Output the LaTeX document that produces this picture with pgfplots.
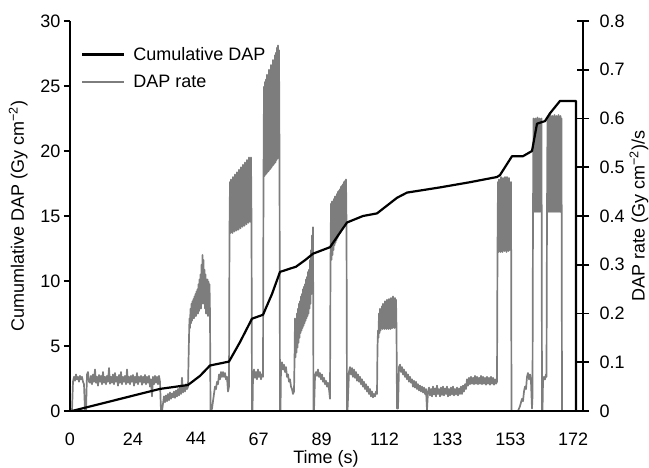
\documentclass[border=0pt]{standalone}
\usepackage{pgfplots}
\pgfplotsset{compat=1.18}
\usepackage{fontspec}
\setmainfont{Liberation Sans}
\definecolor{rategray}{RGB}{125,125,125}
\newcommand{\fs}{\fontsize{18}{21}\selectfont}
\pgfplotsset{base/.style={width=513pt,height=390pt,scale only axis,
  xmin=70,xmax=583,
  /pgf/number format/assume math mode=true,
  tick label style={font=\fs}, label style={font=\fs},
  axis line style={line width=1.8pt},
  every tick/.style={black,line width=1.6pt}}}
\begin{document}
\begin{tikzpicture}
% DAP rate (right axis), drawn first
\begin{axis}[base, axis x line=none, axis y line*=right,
  ymin=0, ymax=0.8, ytick={0,0.1,0.2,0.3,0.4,0.5,0.6,0.7,0.8},
  tick align=center, major tick length=12pt,
  yticklabel style={xshift=7pt},
  ylabel={DAP rate (Gy cm\textsuperscript{−2})/s},
  ylabel style={at={(axis description cs:1.109,0.5)},anchor=center}]
\addplot[rategray, line width=1.7pt, line join=round] coordinates {
(72,0) (73,0.06) (74,0.07) (75,0.062) (76,0.075) (77,0.065) (78,0.07) (79,0.06) (80,0.072) (81,0.065) (82,0.07) (83,0.06) (84,0.055) (85,0) (86,0) (87,0.075) (88,0.08) (89,0.06)
(90,0.058) (91,0.072) (92,0.055) (93,0.075) (94,0.06) (95,0.085) (96,0.058) (97,0.07) (98,0.052) (99,0.074) (100,0.06) (101,0.072) (102,0.055) (103,0.08) (104,0.058) (105,0.07) (106,0.055) (107,0.072) (108,0.06) (109,0.088)
(110,0.056) (111,0.07) (112,0.058) (113,0.075) (114,0.055) (115,0.078) (116,0.06) (117,0.07) (118,0.052) (119,0.074) (120,0.058) (121,0.08) (122,0.055) (123,0.07) (124,0.06) (125,0.072) (126,0.055) (127,0.085) (128,0.058) (129,0.07)
(130,0.055) (131,0.072) (132,0.06) (133,0.074) (134,0.052) (135,0.07) (136,0.058) (137,0.078) (138,0.055) (139,0.07) (140,0.06) (141,0.072) (142,0.054) (143,0.07) (144,0.058) (145,0.074) (146,0.055) (147,0.07) (148,0.058) (149,0.072)
(150,0.05) (151,0.065) (152,0.03) (153,0.07) (154,0.055) (155,0.072) (156,0.058) (157,0.07) (158,0.055) (159,0.072) (160,0.06) (161,0)
(162,0) (163,0.015) (164,0.03) (165,0.018) (166,0.032) (167,0.02) (168,0.035) (169,0.022) (170,0.038) (171,0.025) (172,0.036) (173,0.028) (174,0.04) (175,0.027) (176,0.042) (177,0.03) (178,0.045) (179,0.032) (180,0.05) (181,0.035) (182,0.068) (183,0.038) (184,0.05) (185,0.04) (186,0.055) (187,0.045) (188,0.05)
(189,0.15) (189.5,0.19) (190,0.17) (190.5,0.21) (191,0.18) (191.5,0.22) (192,0.185) (192.5,0.225) (193,0.19) (193.5,0.23) (194,0.19) (194.5,0.235) (195,0.195) (195.5,0.24) (196,0.195) (196.5,0.245) (197,0.2) (197.5,0.25) (198,0.2) (198.5,0.26) (199,0.205) (199.5,0.27) (200,0.21) (200.5,0.28) (201,0.21) (201.5,0.3) (202,0.22) (202.5,0.32) (203,0.25) (203.5,0.31) (204,0.22) (204.5,0.29) (205,0.21) (205.5,0.28) (206,0.2) (206.5,0.27) (207,0.2) (207.5,0.27) (208,0.195) (208.5,0.265) (209,0.2) (209.5,0.26) (210,0.2) (210.5,0)
(211,0) (212,0.005) (213,0.02) (214,0.035) (215,0.05) (216,0.045) (217,0.06) (218,0.055) (219,0.075) (220,0.065) (221,0.08) (222,0.07) (223,0.08) (224,0.07) (225,0.078) (226,0.065) (227,0.07) (228,0.04) (229,0.05)
(229.5,0.37) (230,0.47) (230.5,0.365) (231,0.475) (231.5,0.37) (232,0.46) (232.5,0.365) (233,0.48) (233.5,0.37) (234,0.475) (234.5,0.368) (235,0.485) (235.5,0.372) (236,0.48) (236.5,0.37) (237,0.49) (237.5,0.375) (238,0.485) (238.5,0.372) (239,0.495) (239.5,0.378) (240,0.49) (240.5,0.375) (241,0.5) (241.5,0.38) (242,0.495) (242.5,0.378) (243,0.505) (243.5,0.382) (244,0.5) (244.5,0.38) (245,0.51) (245.5,0.385) (246,0.505) (246.5,0.383) (247,0.515) (247.5,0.388) (248,0.51) (248.5,0.386) (249,0.52) (249.5,0.39) (250,0.515) (250.5,0.388) (251,0.52) (251.5,0.39) (252,0)
(252.5,0) (253,0.07) (254,0.085) (255,0.068) (256,0.08) (257,0.065) (258,0.085) (259,0.07) (260,0.08) (261,0.065) (262,0.075) (263,0.07)
(263.5,0.48) (264,0.665) (264.5,0.482) (265,0.675) (265.5,0.485) (266,0.68) (266.5,0.487) (267,0.69) (267.5,0.49) (268,0.685) (268.5,0.492) (269,0.7) (269.5,0.495) (270,0.695) (270.5,0.497) (271,0.71) (271.5,0.5) (272,0.705) (272.5,0.503) (273,0.72) (273.5,0.505) (274,0.715) (274.5,0.508) (275,0.73) (275.5,0.51) (276,0.735) (276.5,0.515) (277,0.745) (277.5,0.518) (278,0.75) (278.5,0.52) (279,0.74) (279.5,0.525) (280,0)
(280.5,0) (281,0.09) (282,0.1) (283,0.085) (284,0.095) (285,0.08) (286,0.09) (287,0.07) (288,0.075) (289,0.06) (290,0.065) (291,0.05) (292,0.045) (293,0.035) (294,0.04)
(294.5,0.1) (295,0.19) (295.5,0.11) (296,0.18) (296.5,0.12) (297,0.2) (297.5,0.13) (298,0.21) (298.5,0.14) (299,0.22) (299.5,0.15) (300,0.225) (300.5,0.16) (301,0.235) (301.5,0.165) (302,0.24) (302.5,0.17) (303,0.25) (303.5,0.175) (304,0.255) (304.5,0.18) (305,0.26) (305.5,0.185) (306,0.27) (306.5,0.19) (307,0.275) (307.5,0.195) (308,0.285) (308.5,0.2) (309,0.29) (309.5,0.21) (310,0.31) (310.5,0.22) (311,0.33) (311.5,0.24) (312,0.36) (312.5,0.26) (313,0.377) (313.5,0)
(314,0) (315,0.07) (316,0.08) (317,0.072) (318,0.085) (319,0.07) (320,0.078) (321,0.065) (322,0.075) (323,0.06) (324,0.068) (325,0.055) (326,0.062) (327,0.05) (328,0.058) (329,0.045) (330,0.025)
(330.5,0.3) (331,0.425) (331.5,0.31) (332,0.43) (332.5,0.32) (333,0.43) (333.5,0.33) (334,0.435) (334.5,0.34) (335,0.44) (335.5,0.345) (336,0.44) (336.5,0.35) (337,0.445) (337.5,0.355) (338,0.45) (338.5,0.36) (339,0.452) (339.5,0.365) (340,0.455) (340.5,0.37) (341,0.46) (341.5,0.372) (342,0.462) (342.5,0.375) (343,0.465) (343.5,0.378) (344,0.47) (344.5,0.38) (345,0.472) (345.5,0.383) (346,0.475) (346.5,0.385) (347,0)
(347.5,0) (349,0.08) (350,0.09) (351,0.075) (352,0.088) (353,0.07) (354,0.085) (355,0.068) (356,0.08) (357,0.062) (358,0.075) (359,0.06) (360,0.07) (361,0.055) (362,0.065) (363,0.05) (364,0.06) (365,0.045) (366,0.055) (367,0.04) (368,0.05) (369,0.035) (370,0.045) (371,0.03) (372,0.04) (373,0.028) (374,0.035) (375,0.03) (376,0.04) (377,0.035)
(377.5,0.13) (378,0.165) (378.5,0.15) (379,0.2) (379.5,0.16) (380,0.21) (380.5,0.165) (381,0.205) (381.5,0.17) (382,0.215) (382.5,0.168) (383,0.22) (383.5,0.17) (384,0.215) (384.5,0.168) (385,0.225) (385.5,0.17) (386,0.22) (386.5,0.168) (387,0.228) (387.5,0.17) (388,0.222) (388.5,0.168) (389,0.23) (389.5,0.17) (390,0.225) (390.5,0.168) (391,0.232) (391.5,0.17) (392,0.228) (392.5,0.17) (393,0.235) (393.5,0.172) (394,0.23) (394.5,0.17) (395,0.232) (395.5,0.172) (396,0.228) (396.5,0.17) (397,0.005)
(398,0.005) (399,0.09) (400,0.095) (401,0.08) (402,0.09) (403,0.075) (404,0.085) (405,0.07) (406,0.08) (407,0.065) (408,0.075) (409,0.06) (410,0.07) (411,0.058) (412,0.065) (413,0.05) (414,0.062) (415,0.048) (416,0.06) (417,0.045) (418,0.055) (419,0.042) (420,0.052) (421,0.04) (422,0.05) (423,0.038) (424,0.048) (425,0.035) (426,0.045) (427,0.002) (428,0.04)
(429,0.048) (430,0.032) (431,0.045) (432,0.03) (433,0.05) (434,0.034) (435,0.046) (436,0.03) (437,0.052) (438,0.035) (439,0.045) (440,0.03) (441,0.048) (442,0.033) (443,0.05) (444,0.032) (445,0.046) (446,0.035) (447,0.05) (448,0.03) (449,0.045) (450,0.032) (451,0.048) (452,0.034) (453,0.05) (454,0.032) (455,0.045) (456,0.034) (457,0.048) (458,0.032) (459,0.046) (460,0.035) (461,0.05) (462,0.035) (463,0.052) (464,0.04)
(465,0.055) (466,0.045) (467,0.065) (468,0.052) (469,0.068) (470,0.055) (471,0.07) (472,0.056) (473,0.068) (474,0.055) (475,0.072) (476,0.056) (477,0.07) (478,0.055) (479,0.068) (480,0.056) (481,0.072) (482,0.055) (483,0.07) (484,0.056) (485,0.068) (486,0.054) (487,0.07) (488,0.056) (489,0.068) (490,0.054) (491,0.07) (492,0.056) (493,0.068) (494,0.054) (495,0.065) (496,0.056) (497,0.06)
(497.5,0.33) (498,0.47) (498.5,0.326) (499,0.475) (499.5,0.33) (500,0.465) (500.5,0.326) (501,0.48) (501.5,0.33) (502,0.47) (502.5,0.326) (503,0.478) (503.5,0.33) (504,0.465) (504.5,0.328) (505,0.48) (505.5,0.33) (506,0.47) (506.5,0.326) (507,0.48) (507.5,0.33) (508,0.47) (508.5,0.328) (509,0.478) (509.5,0.33) (510,0.465) (510.5,0.33) (511,0.47) (511.5,0)
(512,0) (518,0) (520,0.01) (522,0.025) (523,0.02) (524,0.04) (525,0.05) (526,0.045) (527,0.07) (528,0.078) (529,0.065) (530,0.075) (531,0.06) (532,0.005) (532.5,0.03)
(533,0.41) (533.5,0.6) (534,0.41) (534.5,0.595) (535,0.408) (535.5,0.6) (536,0.41) (536.5,0.59) (537,0.408) (537.5,0.602) (538,0.41) (538.5,0.595) (539,0.408) (539.5,0.6) (540,0.41) (540.5,0.59) (541,0.408) (541.5,0.6) (542,0)
(542.5,0) (543,0.06) (544,0.07) (545,0.065) (546,0.075) (546.5,0.07)
(547,0.41) (547.5,0.6) (548,0.408) (548.5,0.605) (549,0.41) (549.5,0.595) (550,0.408) (550.5,0.607) (551,0.41) (551.5,0.6) (552,0.408) (552.5,0.605) (553,0.41) (553.5,0.595) (554,0.408) (554.5,0.607) (555,0.41) (555.5,0.6) (556,0.408) (556.5,0.605) (557,0.41) (557.5,0.595) (558,0.408) (558.5,0.607) (559,0.41) (559.5,0.6) (560,0.408) (560.5,0.605) (561,0.41) (561.5,0.6) (562,0) (563,0)
};
\end{axis}
% Cumulative DAP (left axis), drawn on top
\begin{axis}[base, axis x line*=bottom, axis y line*=left,
  ymin=0, ymax=30, ytick={0,5,10,15,20,25,30},
  tick align=outside, major tick length=6pt,
  xtick={70,132.9,195.8,258.7,321.6,384.5,447.4,510.3,573.2},
  xticklabels={0,24,44,67,89,112,133,153,172},
  xtick style={draw=none},
  xticklabel style={yshift=-12pt},
  xlabel={Time (s)},
  xlabel style={at={(axis description cs:0.499,-0.123)},anchor=center},
  ylabel={Cumumlative DAP (Gy cm\textsuperscript{−2})},
  ylabel style={at={(axis description cs:-0.101,0.5)},anchor=center},
  legend style={draw=none, fill=none, font=\fs, at={(0,1)}, anchor=north west,
    xshift=8pt, yshift=-22pt, row sep=9pt, column sep=6pt},
  legend cell align=left,
  legend image code/.code={\draw[#1] (0pt,0pt) -- (42pt,0pt);}]
\addplot[black, line width=2.2pt, line join=round] coordinates {
(72,0) (160,1.7) (188,2.0) (200,2.7) (210,3.5) (229,3.8) (240,5.3) (252,7.1) (263,7.4) (272,9.0) (280,10.7) (296,11.1) (305,11.6) (313,12.1) (330,12.6) (347,14.5) (363,15.0) (377,15.2) (397,16.4) (407,16.8) (440,17.2) (470,17.6) (497,18.0) (500,18.15) (512,19.6) (523,19.6) (532,20.0) (537,22.1) (545,22.3) (550,22.9) (560,23.85) (576,23.85) (576,0)
};
\addlegendentry{Cumulative DAP}
\addlegendimage{rategray, line width=1.7pt}
\addlegendentry{DAP rate}
\end{axis}
\pgfresetboundingbox
\useasboundingbox (-70pt,-57pt) rectangle (579pt,411pt);
\end{tikzpicture}
\end{document}
